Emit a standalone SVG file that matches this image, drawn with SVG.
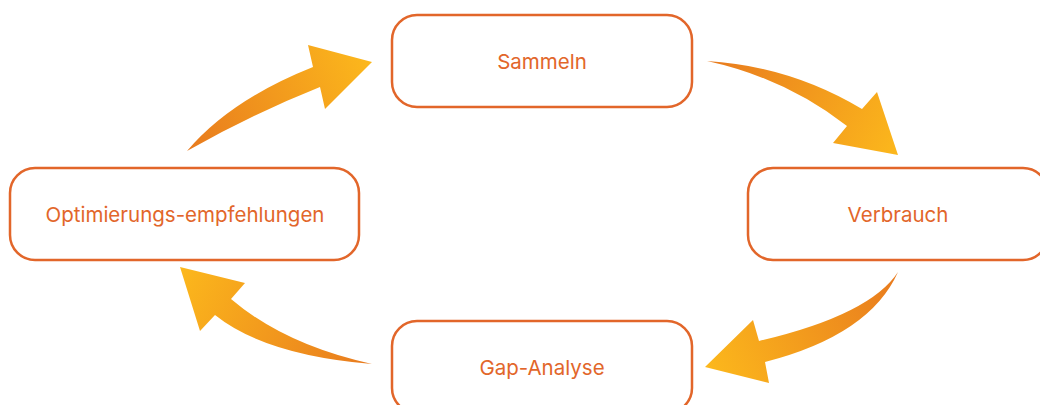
<svg xmlns="http://www.w3.org/2000/svg" width="1040" height="405" viewBox="0 0 1040 405">
<style>
.box{fill:#fff;stroke:#E2662A;stroke-width:2.5}
.lbl{font-family:Inter,"Liberation Sans",sans-serif;font-size:20.5px;fill:#E2662A;text-anchor:middle;dominant-baseline:central}
</style>
<defs>
<linearGradient id="g1" gradientUnits="userSpaceOnUse" x1="187" y1="151" x2="372" y2="62"><stop offset="0" stop-color="#E87A1E"/><stop offset="1" stop-color="#FCB81C"/></linearGradient>
<linearGradient id="g2" gradientUnits="userSpaceOnUse" x1="707" y1="61" x2="898" y2="155"><stop offset="0" stop-color="#E87A1E"/><stop offset="1" stop-color="#FCB81C"/></linearGradient>
<linearGradient id="g3" gradientUnits="userSpaceOnUse" x1="898" y1="272" x2="705" y2="367"><stop offset="0" stop-color="#E87A1E"/><stop offset="1" stop-color="#FCB81C"/></linearGradient>
<linearGradient id="g4" gradientUnits="userSpaceOnUse" x1="372" y1="364" x2="180" y2="267"><stop offset="0" stop-color="#E87A1E"/><stop offset="1" stop-color="#FCB81C"/></linearGradient>
</defs>
<rect width="1040" height="405" fill="#fff"/>
<g id="connectors">
<path d="M187,151 Q230,100 313,67 L308,45 L372,62 L325,109 L320,87 Q250,115 187,151 Z" fill="url(#g1)"/>
<path d="M707,61 Q790,66 862,109 L877,92 L898,155 L833,143 L847,126 Q785,78 707,61 Z" fill="url(#g2)"/>
<path d="M898,272 Q870,315 759,341 L753,320 L705,367 L769,383 L765,362 Q870,335 898,272 Z" fill="url(#g3)"/>
<path d="M372,364 Q285,345 231,299 L245,283 L180,267 L200,331 L215,315 Q265,355 372,364 Z" fill="url(#g4)"/>
</g>
<g id="sammeln"><rect class="box" x="392" y="15" width="300" height="92" rx="25"/><text class="lbl" x="542" y="61">Sammeln</text></g>
<g id="verbrauch"><rect class="box" x="748" y="168" width="300" height="92" rx="25"/><text class="lbl" x="898" y="214">Verbrauch</text></g>
<g id="gap"><rect class="box" x="392" y="321" width="300" height="92" rx="25"/><text class="lbl" x="542" y="367">Gap-Analyse</text></g>
<g id="optimierung"><rect class="box" x="10" y="168" width="349" height="92" rx="25"/><text class="lbl" x="185" y="214">Optimierungs-empfehlungen</text></g>
</svg>
